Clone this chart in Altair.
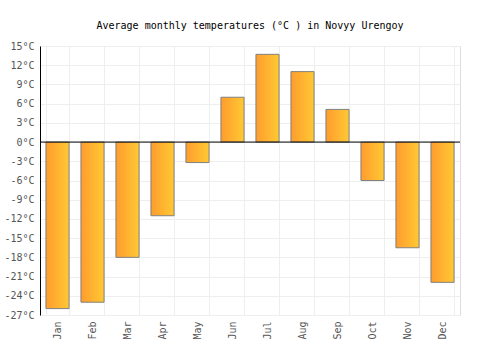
import altair as alt
import pandas as pd

months = ["Jan", "Feb", "Mar", "Apr", "May", "Jun", "Jul", "Aug", "Sep", "Oct", "Nov", "Dec"]
temps = [-26.0, -25.0, -18.0, -11.5, -3.2, 7.0, 13.7, 11.0, 5.1, -6.0, -16.5, -21.9]
y_ticks = list(range(-27, 16, 3))

df = pd.DataFrame({"month": months, "temp": temps})
FONT = "DejaVu Sans Mono"

y_enc = alt.Y("temp:Q", title=None,
              scale=alt.Scale(domain=[-27, 15], nice=False, zero=False),
              axis=alt.Axis(values=y_ticks, labelExpr="toString(datum.value) + '°C'",
                            grid=True, gridColor="#eeeeee", ticks=False, domainColor="#000000",
                            labelPadding=6, labelFont=FONT, labelFontSize=10,
                            labelColor="#555555", labelOverlap=False, labelFlush=False))

bars = alt.Chart(df).mark_bar(
    stroke="#808080", strokeWidth=1,
    color=alt.Gradient(
        gradient="linear", x1=0, x2=1, y1=0, y2=0,
        stops=[alt.GradientStop(color="#ff9c2e", offset=0),
               alt.GradientStop(color="#ffc933", offset=1)],
    ),
).encode(
    x=alt.X("month:N", sort=months, title=None,
            scale=alt.Scale(paddingInner=0.34, paddingOuter=0.17),
            axis=alt.Axis(labelAngle=-90, tickBand="extent", grid=True, gridColor="#eeeeee",
                          ticks=False, domain=False, labelPadding=6, labelFont=FONT,
                          labelFontSize=10, labelColor="#555555", labelBaseline="middle",
                          labelAlign="right", labelOverlap=False, labelFlush=False)),
    y=y_enc,
)

zero = alt.Chart(pd.DataFrame({"temp": [0]})).mark_rule(color="#000000", strokeWidth=1).encode(
    y=y_enc
)

chart = alt.layer(bars, zero).properties(
    width=420, height=269,
    title=alt.TitleParams("Average monthly temperatures (°C ) in Novyy Urengoy",
                          font=FONT, fontSize=10, fontWeight="normal", color="#000000",
                          offset=10, anchor="middle"),
    autosize=alt.AutoSizeParams(type="none"),
    padding={"left": 40, "top": 46, "right": 40, "bottom": 35},
).configure_view(stroke=None).configure(background="#ffffff")

chart.save("out.html", embed_options={"renderer": "svg", "actions": False})
